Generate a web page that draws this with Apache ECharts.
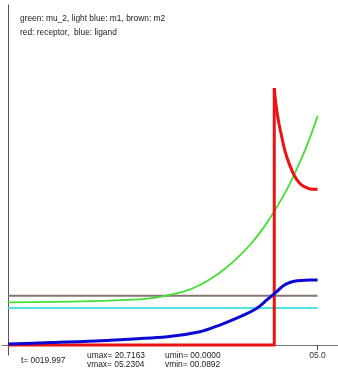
<!DOCTYPE html>
<html>
<head>
<meta charset="utf-8">
<script src="https://cdn.jsdelivr.net/npm/echarts@6/dist/echarts.min.js"></script>
<style>
  html, body { margin: 0; padding: 0; background: #fff; }
  #chart { width: 338px; height: 372px; }
</style>
</head>
<body>
<div id="chart"></div>
<script>
// time samples and concentrations (same units for all species)
const muTime = [0, 0.68, 1.48, 2.29, 2.83, 3.1, 3.42, 3.67, 3.91, 4.1, 4.28, 4.44, 4.6, 4.76, 4.88, 5.0];
const mu2 = [3.44, 3.47, 3.55, 3.76, 4.31, 4.84, 5.83, 6.86, 8.08, 9.28, 10.63, 11.96, 13.5, 15.26, 16.76, 18.46];

const m1Time = [0, 5.0];
const m1 = [2.98, 2.98];
const m2Time = [0, 5.0];
const m2 = [3.97, 3.97];

// receptor: zero until the switch, then a jump and a decay to a plateau
const receptorTime = [0, 4.3, 4.3, 4.33, 4.37, 4.42, 4.46, 4.5, 4.55, 4.61, 4.67, 4.74, 4.81, 4.88, 4.95, 5.0];
const receptor = [0, 0, 20.7163, 19.3, 18.0, 16.8, 15.9, 15.2, 14.5, 13.8, 13.3, 12.9, 12.7, 12.57, 12.55, 12.55];

const ligandTime = [0, 0.7, 1.48, 2.57, 3.1, 3.42, 3.75, 4.02, 4.18, 4.34, 4.44, 4.55, 4.67, 4.8, 5.0];
const ligand = [0.0892, 0.2, 0.35, 0.67, 1.07, 1.61, 2.28, 2.96, 3.63, 4.3, 4.76, 5.04, 5.18, 5.23, 5.2304];

const xTicks = [5];
const legendLines = ['green: mu_2, light blue: m1, brown: m2', 'red: receptor,  blue: ligand'];
const statusTime = 't= 0019.997';
const statusU = ['umax= 20.7163', 'umin= 00.0000'];
const statusV = ['vmax= 05.2304', 'vmin= 00.0892'];

const pairs = (xs, ys) => xs.map((x, i) => [x, ys[i]]);

const font = 'Liberation Sans, Arial, sans-serif';
const chart = echarts.init(document.getElementById('chart'), null, { renderer: 'canvas' });

function line(name, data, color, width, smooth) {
  return {
    name, type: 'line', data, showSymbol: false, silent: true,
    smooth: smooth ? 0.3 : false,
    lineStyle: { color, width, cap: 'butt', join: 'round' }
  };
}

// the step (flat part + jump) is drawn straight, the decay after it smoothed
const receptorPts = pairs(receptorTime, receptor);
const jumpIdx = receptorTime.indexOf(4.3) + 1;

chart.setOption({
  animation: false,
  backgroundColor: '#ffffff',
  grid: { left: 2, right: 0, top: 5, bottom: 17, containLabel: false },
  xAxis: {
    type: 'value', min: -0.1, max: 5.33,
    axisLine: { show: true, onZero: true, lineStyle: { color: '#777', width: 1 } },
    axisTick: { show: true, customValues: xTicks, length: 5, inside: false, lineStyle: { color: '#444', width: 1 } },
    axisLabel: { show: true, customValues: xTicks, margin: -4, fontSize: 8.5, fontFamily: font, color: '#333',
      formatter: v => '0' + v.toFixed(1) },
    splitLine: { show: false }
  },
  yAxis: {
    type: 'value', min: -0.806, max: 27.41,
    axisLine: { show: true, onZero: true, lineStyle: { color: '#555', width: 1 } },
    axisTick: { show: false }, axisLabel: { show: false }, splitLine: { show: false }
  },
  series: [
    line('m2', pairs(m2Time, m2), '#85776f', 2, false),
    line('m1', pairs(m1Time, m1), '#4fe3e3', 2, false),
    line('mu_2', pairs(muTime, mu2), '#44dd33', 1.8, true),
    line('receptor', receptorPts.slice(0, jumpIdx + 1), '#ee1111', 3, false),
    line('receptor', receptorPts.slice(jumpIdx), '#ee1111', 3, true),
    line('ligand', pairs(ligandTime, ligand), '#0a0ad2', 3, true)
  ],
  graphic: [
    { type: 'text', left: 20, top: 15, style: { text: legendLines[0], font: '8.4px ' + font, fill: '#1a1a1a' } },
    { type: 'text', left: 20, top: 29, style: { text: legendLines[1], font: '8.4px ' + font, fill: '#1a1a1a' } },
    { type: 'text', left: 21, top: 357, style: { text: statusTime, font: '8.4px ' + font, fill: '#1a1a1a' } },
    { type: 'text', left: 87, top: 352, style: { text: statusU[0], font: '8.4px ' + font, fill: '#1a1a1a' } },
    { type: 'text', left: 87, top: 361, style: { text: statusV[0], font: '8.4px ' + font, fill: '#1a1a1a' } },
    { type: 'text', left: 165, top: 352, style: { text: statusU[1], font: '8.4px ' + font, fill: '#1a1a1a' } },
    { type: 'text', left: 165, top: 361, style: { text: statusV[1], font: '8.4px ' + font, fill: '#1a1a1a' } }
  ]
});
</script>
</body>
</html>
